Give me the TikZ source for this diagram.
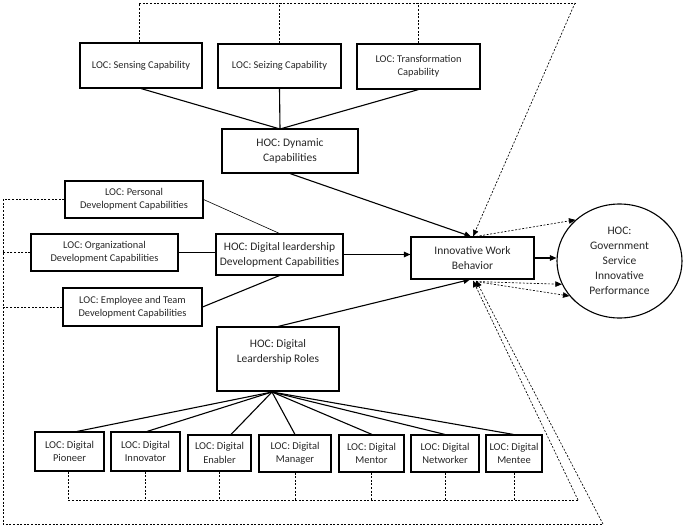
\documentclass[tikz,border=0pt]{standalone}
\usepackage{fontspec}
\setmainfont{Carlito}
\usetikzlibrary{arrows.meta,shapes.geometric,calc}
\begin{document}
\begin{tikzpicture}[x=1pt,y=-1pt,
  bx/.style 2 args={minimum width=#1pt, minimum height=#2pt},
  locbox/.style={draw, line width=1.1pt, inner sep=0pt, align=center, text=black!85,
    font=\fontsize{10.4}{12.8}\selectfont},
  rolebox/.style={locbox, font=\fontsize{10.5}{13.5}\selectfont},
  hocbox/.style={locbox, font=\fontsize{11.5}{15}\selectfont},
  con/.style={line width=1.1pt},
  thincon/.style={line width=0.6pt},
  dsh/.style={line width=0.65pt, dash pattern=on 2pt off 1.6pt},
  arr/.style={-{Triangle[length=6.5pt,width=5.5pt]}}
]
\useasboundingbox (0,0) rectangle (685,527);

% top LOC boxes
\node[locbox, bx={122}{45}] (sens)  at (141,65.5) {LOC: Sensing Capability};
\node[locbox, bx={123}{44}] (seiz)  at (279.5,66) {LOC: Seizing Capability};
\node[locbox, bx={123}{45}] (trans) at (418.5,66.5) {LOC: Transformation\\Capability};
\node[hocbox, bx={136}{44}] (dyn)   at (290,151) {HOC: Dynamic\\Capabilities};

% left LOC boxes
\node[locbox, bx={138}{37}] (pers) at (134,199.5) {LOC: Personal\\Development Capabilities};
\node[locbox, bx={147}{37}] (org)  at (104.5,252.5) {LOC: Organizational\\Development Capabilities};
\node[locbox, bx={139}{38}] (emp)  at (132.5,307) {LOC: Employee and Team\\Development Capabilities};
\node[hocbox, bx={127}{41}] (dld)  at (279.5,254.5) {HOC: Digital leardership\\Development Capabilities};

% centre / right
\node[hocbox, bx={123}{42}] (iwb) at (472.5,258) {Innovative Work\\Behavior};
\node[hocbox, ellipse, bx={125}{114}] (gov) at (619.5,261) {HOC:\\Government\\Service\\Innovative\\Performance};

% roles
\node[hocbox, bx={122}{64}] (roles) at (278,359) {HOC: Digital\\Leardership Roles\\\mbox{}};
\node[rolebox, bx={69}{39}] (pio)    at (69.5,451.5) {LOC: Digital\\Pioneer};
\node[rolebox, bx={69}{39}] (inn)    at (145.5,451.5) {LOC: Digital\\Innovator};
\node[rolebox, bx={63}{36}] (ena)    at (219.5,453) {LOC: Digital\\Enabler};
\node[rolebox, bx={72}{37}] (man)    at (295,453.5) {LOC: Digital\\Manager};
\node[rolebox, bx={65}{37}] (men)    at (371.5,453.5) {LOC: Digital\\Mentor};
\node[rolebox, bx={68}{37}] (net)    at (445,453.5) {LOC: Digital\\Networker};
\node[rolebox, bx={56}{37}] (mentee) at (514,453.5) {LOC: Digital\\Mentee};

% solid connectors
\coordinate (dynj) at (280,129);
\draw[con] (sens.south) -- (dynj);
\draw[con] (seiz.south) -- (dynj);
\draw[con] (trans.south) -- (dynj);
\draw[con,arr] (dyn.south) -- ($(iwb.north)+(-1.5,0)$);
\draw[thincon] (pers.east) -- (dld.north);
\draw[con] (org.east) -- (org.east -| dld.west);
\draw[con] (emp.east) -- (dld.south);
\draw[con,arr] (dld.east) -- (dld.east -| iwb.west);
\draw[con,arr] (roles.north) -- ($(iwb.south)+(-2.5,0)$);
\draw[con,arr] (iwb.east) -- (iwb.east -| gov.west);

\coordinate (rj) at (272,392);
\foreach \n/\dx in {pio/7.5, inn/1.5, ena/11.5, man/0, men/0.5, net/0, mentee/-0.5}
  \draw[con] (rj) -- ($(\n.north)+(\dx,0)$);

% dashed frame: top
\coordinate (tr) at (575,3);
\draw[dsh] ($(sens.north)+(-2,0)$) -- ($(sens.north |- tr)+(-2,0)$) -- (tr);
\draw[dsh] (seiz.north) -- (seiz.north |- tr);
\draw[dsh] (trans.north) -- (trans.north |- tr);
\draw[dsh,arr] (tr) -- ($(iwb.north)+(0.5,0)$);

% dashed frame: outer left/bottom
\coordinate (obl) at (3,524);
\coordinate (obr) at (603,524);
\draw[dsh] (pers.west) -- (pers.west -| obl) -- (obl) -- (obr);
\draw[dsh] (org.west) -- (org.west -| obl);
\draw[dsh] (emp.west) -- (emp.west -| obl);
\draw[dsh,arr] (obr) -- ($(iwb.south)+(3.5,1)$);

% dashed frame: inner bottom
\coordinate (ibr) at (578,500);
\draw[dsh] ($(pio.south)+(-1.5,0)$) -- ($(pio.south |- ibr)+(-1.5,0)$) -- (ibr);
\foreach \n in {inn, ena, man, men, net, mentee}
  \draw[dsh] (\n.south) -- (\n.south |- ibr);
\draw[dsh,arr] (ibr) -- ($(iwb.south)+(0.5,1)$);

% dashed arrows to outcome
\draw[dsh,arr] ($(iwb.north)+(3.5,0)$) -- (gov.137);
\draw[dsh,arr] ($(iwb.south)+(3.5,2)$) -- (gov.202);
\draw[dsh,arr] ($(iwb.south)+(3.5,2)$) -- (gov.215);
\end{tikzpicture}
\end{document}
